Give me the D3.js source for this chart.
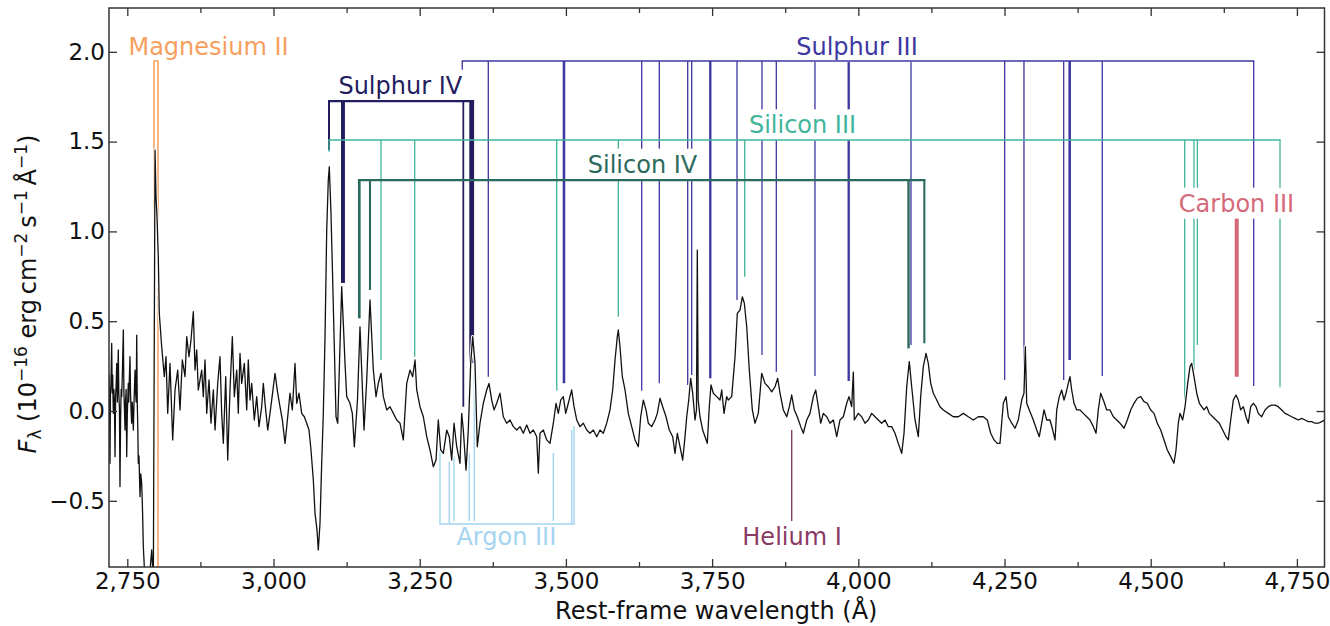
<!DOCTYPE html>
<html><head><meta charset="utf-8">
<script src="https://cdn.jsdelivr.net/npm/d3@7"></script>
<style>body{margin:0;background:#fff}svg{display:block}</style>
</head><body>
<svg id="chart" width="1330" height="626"></svg>
<script>
// ---------------- DATA ----------------
// Observed spectrum: [rest-frame wavelength (Å), F_lambda (1e-16 erg cm^-2 s^-1 Å^-1)]
const spectrum = [
[2718.7,0.200],[2719.5,0.050],[2720.4,-0.291],[2721.2,0.100],[2722.0,0.150],[2723.3,0.377],[2724.2,0.100],[2725.0,0.200],
[2726.1,-0.013],[2727.0,0.120],[2728.0,0.050],[2729.0,-0.254],[2730.0,0.080],[2731.0,0.150],[2731.9,0.265],[2733.0,0.050],
[2734.6,0.340],[2735.5,0.100],[2736.5,0.020],[2737.5,-0.421],[2738.5,-0.050],[2739.5,0.120],[2740.4,0.080],[2741.5,0.200],
[2743.2,0.451],[2744.2,0.100],[2745.0,0.030],[2746.1,-0.106],[2747.0,0.050],[2748.0,0.120],[2749.0,-0.254],[2750.0,-0.020],
[2751.7,0.154],[2752.5,0.050],[2753.5,0.180],[2754.6,0.302],[2755.5,0.100],[2756.5,0.000],[2757.5,-0.068],[2758.5,0.050],
[2759.5,-0.020],[2760.3,-0.106],[2761.5,0.050],[2762.2,0.120],[2763.2,0.228],[2764.2,0.100],[2765.2,0.050],[2766.1,0.423],
[2767.0,0.050],[2768.0,-0.100],[2768.8,-0.291],[2770.0,-0.250],[2771.7,-0.477],[2773.0,-0.350],[2774.6,-0.403],[2776.0,-0.550],
[2777.4,-0.756],[2780.3,-0.95],[2786.0,-1.0],
[2791.7,-0.774],[2794.5,-0.95],[2797.4,1.453],[2799.1,1.193],[2800.8,1.082],[2803.0,0.859],[2804.7,0.544],[2808.8,0.358],
[2813.3,0.191],[2816.2,0.302],[2819.1,-0.013],[2823.0,0.265],[2827.6,-0.161],[2831.6,0.117],[2836.2,0.228],[2840.1,0.006],
[2844.1,0.284],[2848.7,0.191],[2851.6,0.414],[2855.5,0.302],[2858.9,0.395],[2862.9,0.553],[2865.8,0.228],[2868.7,0.340],
[2871.4,0.117],[2877.2,0.228],[2880.0,0.080],[2882.9,0.284],[2885.8,-0.013],[2889.7,0.173],[2893.1,-0.068],[2897.1,0.117],
[2900.0,-0.106],[2904.6,0.154],[2908.5,0.302],[2911.4,-0.013],[2914.2,-0.180],[2918.3,0.191],[2921.7,-0.273],[2925.6,0.117],
[2929.6,0.414],[2933.0,0.080],[2937.1,0.228],[2939.8,-0.013],[2942.7,0.321],[2945.6,0.154],[2950.1,0.265],[2954.2,0.006],
[2956.9,0.284],[2959.8,0.061],[2962.7,0.154],[2967.2,-0.050],[2971.3,0.080],[2975.2,-0.087],[2979.8,0.024],[2982.6,0.154],
[2985.5,0.043],[2990.1,-0.106],[2994.0,-0.013],[2996.9,0.061],[3002.6,0.210],[3007.2,0.099],[3011.1,0.024],[3015.1,-0.050],
[3019.7,-0.180],[3024.3,-0.032],[3028.2,0.099],[3032.2,0.006],[3036.8,0.265],[3039.7,0.043],[3043.6,0.099],[3048.2,-0.013],
[3052.7,-0.032],[3056.8,-0.068],[3060.7,-0.106],[3064.1,-0.217],[3068.1,-0.384],[3071.0,-0.570],[3074.4,-0.663],[3076.6,-0.774],
[3079.5,-0.625],[3082.4,-0.291],[3085.2,-0.013],[3088.1,0.414],[3091.0,1.008],[3093.7,1.286],[3095.4,1.360],[3098.3,1.101],
[3101.2,0.729],[3104.0,0.358],[3106.9,-0.032],[3109.8,-0.068],[3112.5,0.228],[3116.6,0.692],[3119.4,0.488],[3122.3,0.265],
[3125.2,0.080],[3130.8,0.043],[3134.8,-0.013],[3138.2,-0.199],[3143.6,0.061],[3147.9,0.469],[3154.8,-0.106],[3159.4,0.173],
[3165.0,0.618],[3170.7,0.228],[3175.3,0.080],[3179.2,0.154],[3183.8,0.210],[3187.8,0.080],[3193.6,0.006],[3199.2,0.024],
[3204.9,-0.013],[3210.7,-0.050],[3216.3,-0.068],[3222.0,-0.161],[3227.8,0.154],[3233.4,0.228],[3238.0,0.191],[3242.0,0.284],
[3244.9,0.117],[3250.5,0.024],[3256.2,-0.032],[3262.0,-0.143],[3267.6,-0.217],[3273.3,-0.310],[3277.9,-0.273],[3281.8,-0.050],
[3285.9,-0.217],[3290.4,-0.236],[3296.2,-0.106],[3300.6,-0.143],[3304.7,-0.273],[3308.7,-0.068],[3313.3,-0.199],[3318.9,-0.291],
[3321.8,-0.013],[3324.6,-0.106],[3329.2,-0.329],[3333.1,-0.106],[3337.2,0.265],[3340.6,0.414],[3344.6,0.265],[3348.5,-0.199],
[3353.1,-0.068],[3358.8,0.043],[3364.6,0.117],[3368.5,0.154],[3373.1,0.061],[3377.1,0.006],[3381.7,0.043],[3387.3,0.099],
[3393.0,-0.032],[3398.8,-0.068],[3404.4,-0.050],[3410.1,-0.087],[3415.9,-0.106],[3421.5,-0.087],[3427.2,-0.124],[3433.0,-0.078],
[3438.6,-0.124],[3444.3,-0.106],[3450.1,-0.143],[3452.8,-0.347],[3455.7,-0.124],[3461.4,-0.106],[3467.2,-0.161],[3472.8,-0.180],
[3478.5,-0.068],[3483.1,0.043],[3487.0,-0.013],[3491.1,0.061],[3495.6,0.080],[3499.7,-0.013],[3504.1,0.043],[3509.9,0.117],
[3513.9,0.024],[3518.5,-0.050],[3524.1,-0.087],[3529.8,-0.068],[3535.6,-0.106],[3541.2,-0.124],[3546.9,-0.106],[3552.7,-0.143],
[3558.3,-0.106],[3564.0,-0.124],[3569.8,-0.068],[3575.4,0.006],[3580.0,0.117],[3584.0,0.284],[3587.9,0.414],[3589.6,0.451],
[3592.5,0.358],[3596.5,0.191],[3601.1,0.117],[3606.7,-0.013],[3612.5,-0.087],[3618.2,-0.161],[3623.8,-0.199],[3627.9,-0.032],
[3632.4,0.061],[3637.0,0.006],[3640.9,-0.068],[3646.7,-0.087],[3652.4,-0.050],[3656.3,-0.013],[3660.9,0.071],[3665.5,0.024],
[3671.2,-0.032],[3676.8,-0.106],[3682.6,-0.143],[3686.6,-0.236],[3690.5,-0.124],[3695.1,-0.199],[3699.7,-0.273],[3703.7,-0.143],
[3706.6,-0.032],[3710.0,0.061],[3713.4,0.182],[3716.8,0.099],[3720.8,-0.050],[3723.3,0.006],[3724.7,0.896],[3726.2,0.061],
[3729.3,-0.032],[3733.9,-0.106],[3737.9,-0.143],[3741.8,-0.180],[3745.2,0.024],[3748.1,0.145],[3752.1,0.099],[3757.9,0.080],
[3763.5,0.061],[3766.4,0.117],[3770.4,-0.013],[3774.9,0.080],[3777.7,0.061],[3783.5,0.080],[3789.2,0.302],[3793.1,0.544],
[3797.7,0.562],[3801.7,0.636],[3805.1,0.600],[3809.2,0.469],[3813.6,0.228],[3818.8,0.006],[3823.3,-0.068],[3829.0,-0.013],
[3834.8,0.210],[3840.5,0.154],[3846.1,0.135],[3851.9,0.107],[3857.6,0.135],[3862.2,0.182],[3866.1,0.099],[3871.8,0.006],
[3877.6,-0.032],[3882.1,0.024],[3886.1,0.089],[3890.6,0.006],[3895.7,-0.032],[3901.5,-0.087],[3906.0,-0.124],[3911.8,-0.050],
[3917.4,-0.013],[3923.1,0.080],[3927.2,0.117],[3931.6,0.024],[3935.7,-0.068],[3940.2,-0.013],[3946.0,-0.032],[3951.6,-0.068],
[3957.3,-0.050],[3963.1,-0.143],[3968.7,-0.050],[3974.4,-0.032],[3980.2,0.043],[3984.1,0.080],[3988.7,0.024],[3991.5,0.217],
[3993.2,-0.050],[4000.0,-0.013],[4005.8,-0.032],[4011.5,-0.068],[4017.1,-0.050],[4022.9,-0.013],[4028.6,-0.032],[4034.2,-0.050],
[4040.0,-0.068],[4045.7,-0.050],[4051.3,-0.087],[4057.1,-0.087],[4062.8,-0.124],[4068.4,-0.180],[4074.2,-0.236],[4078.2,-0.124],
[4082.8,0.135],[4087.2,0.275],[4091.3,0.135],[4097.0,-0.050],[4102.6,-0.143],[4106.7,0.080],[4111.2,0.247],[4115.8,0.321],
[4119.7,0.265],[4123.8,0.154],[4128.3,0.099],[4134.1,0.061],[4139.7,0.024],[4145.4,0.006],[4153.9,-0.013],[4162.5,-0.032],
[4171.0,-0.032],[4179.6,-0.013],[4188.1,-0.032],[4196.7,-0.050],[4205.2,-0.032],[4213.8,-0.032],[4220.6,-0.050],[4226.4,-0.124],
[4232.1,-0.161],[4237.7,-0.180],[4242.3,-0.180],[4248.0,0.043],[4252.6,0.080],[4256.5,-0.032],[4262.3,-0.068],[4268.0,-0.096],
[4273.6,-0.050],[4279.4,0.061],[4283.3,0.099],[4285.6,0.358],[4288.0,0.043],[4292.4,0.006],[4299.3,-0.050],[4305.1,-0.106],
[4309.5,-0.143],[4313.6,-0.068],[4317.6,0.006],[4322.2,-0.050],[4327.8,-0.050],[4332.5,-0.106],[4336.4,-0.161],[4339.3,0.006],
[4343.7,0.080],[4347.8,0.117],[4351.8,0.061],[4355.2,0.099],[4359.1,0.154],[4362.0,0.191],[4364.9,0.117],[4368.9,0.043],
[4373.5,0.006],[4379.1,0.006],[4384.8,-0.013],[4390.6,-0.032],[4396.2,-0.050],[4401.9,-0.087],[4406.5,-0.124],[4410.4,0.006],
[4414.5,0.099],[4419.0,0.061],[4424.8,0.006],[4430.4,0.006],[4436.1,-0.032],[4441.9,-0.050],[4447.5,-0.068],[4454.4,-0.096],
[4460.0,-0.050],[4465.8,0.006],[4471.5,0.043],[4477.1,0.071],[4482.9,0.080],[4488.6,0.052],[4494.2,0.043],[4500.0,0.006],
[4505.7,-0.013],[4511.3,-0.068],[4517.1,-0.106],[4522.8,-0.161],[4528.4,-0.217],[4534.2,-0.254],[4539.8,-0.291],[4543.3,-0.217],
[4547.2,-0.068],[4550.1,-0.013],[4554.7,-0.050],[4558.7,0.024],[4563.3,0.154],[4567.2,0.247],[4570.1,0.265],[4574.1,0.191],
[4578.7,0.099],[4583.2,0.043],[4587.2,0.024],[4591.2,0.006],[4595.8,0.024],[4600.2,-0.013],[4606.0,-0.032],[4611.7,-0.050],
[4617.3,-0.068],[4623.1,-0.106],[4628.8,-0.143],[4632.7,-0.161],[4636.8,-0.050],[4641.3,0.061],[4645.9,0.089],[4649.8,0.061],
[4653.9,0.006],[4658.4,0.024],[4663.0,-0.032],[4666.9,-0.068],[4671.0,0.024],[4675.5,0.043],[4680.1,0.024],[4684.0,-0.013],
[4689.8,-0.032],[4695.5,0.006],[4701.1,0.024],[4706.9,0.033],[4712.5,0.033],[4718.2,0.024],[4724.0,0.006],[4729.7,-0.013],
[4735.3,-0.022],[4741.1,-0.032],[4746.8,-0.041],[4752.4,-0.050],[4758.2,-0.041],[4763.9,-0.050],[4769.5,-0.059],[4775.3,-0.059],
[4781.0,-0.068],[4786.6,-0.068],[4792.4,-0.059],[4798.0,-0.050]
];

// Line identifications: [wavelength (Å), flux where the marker ends, relative strength]
const magnesium2Lines = [[2795.7,-0.9,1.3],[2802.5,-0.9,1.3]];
const sulphur4Lines   = [[3094.9,1.453,1.7],[3118.8,0.713,3.4],[3324.6,0.024,1.5],[3338.9,0.267,4.2]];
const sulphur3Lines   = [[3322.8,1.900,1.1],[3367.3,0.191,1.1],[3496.7,0.154,2.2],[3629.6,0.113,1.1],[3659.7,0.154,1.1],
                         [3708.3,0.145,1.1],[3715.1,0.200,1.1],[3746.9,0.182,2.0],[3792.6,0.618,1.1],[3835.3,0.312,1.1],
                         [3859.8,0.219,1.1],[3925.9,0.195,1.1],[3983.6,0.167,2.0],[4090.1,0.367,1.1],[4250.3,0.173,1.1],
                         [4283.3,0.145,1.1],[4351.2,0.173,1.1],[4361.5,0.284,2.2],[4417.2,0.195,1.1],[4676.1,0.139,1.1]];
const silicon3Lines   = [[3094.9,1.444,1.1],[3183.8,0.284,1.1],[3241.4,0.302,1.1],[3484.3,0.113,1.1],[3589.6,0.525,1.1],
                         [3805.8,0.748,1.1],[4558.1,0.052,1.1],[4574.0,0.228,1.1],[4579.8,0.367,1.1],[4721.1,0.132,1.1]];
const silicon4Lines   = [[3146.7,0.516,2.3],[3165.0,0.674,1.8],[4085.9,0.349,2.1],[4112.9,0.377,1.8]];
const carbon3Lines    = [[4647.1,0.191,3.5]];
const argon3Lines     = [[3284.7,-0.212,1.2],[3300.6,-0.282,1.2],[3308.7,-0.256,1.2],[3334.8,-0.236,1.2],
                         [3343.4,0.201,1.2],[3478.5,-0.233,1.2],[3509.9,-0.106,1.2],[3513.9,-0.084,1.2]];
const helium1Lines    = [[3886.1,-0.106,1.2]];

const ionNames    = ["Magnesium II","Sulphur IV","Sulphur III","Silicon III","Silicon IV","Carbon III","Argon III","Helium I"];
const ionLines    = [magnesium2Lines, sulphur4Lines, sulphur3Lines, silicon3Lines, silicon4Lines, carbon3Lines, argon3Lines, helium1Lines];
const ionBracket  = [1.949, 1.726, 1.949, 1.509, 1.286, 1.075, -0.629, -0.624];   // flux level of the bracket

// Tick values
const xMajorTicks = [2750,3000,3250,3500,3750,4000,4250,4500,4750];
const xMinorTicks = [2875,3125,3375,3625,3875,4125,4375,4625];
const yMajorTicks = [-0.5,0,0.5,1.0,1.5,2.0];

// ---------------- STYLE / LAYOUT ----------------
const ionStyle = {
  "Magnesium II": {color:"#f5a05e", bracketW:1.5, label:[2888.9, 1.982]},
  "Sulphur IV":   {color:"#221d5e", bracketW:2.3, label:[3216.8, 1.763]},
  "Sulphur III":  {color:"#3d37a1", bracketW:1.3, label:[3997.8, 1.982]},
  "Silicon III":  {color:"#42b49c", bracketW:1.3, label:[3904.6, 1.546]},
  "Silicon IV":   {color:"#2b6a5d", bracketW:2.2, label:[3631.0, 1.327]},
  "Carbon III":   {color:"#d4697a", bracketW:1.3, label:[4646.7, 1.110]},
  "Argon III":    {color:"#a3d5f0", bracketW:1.5, label:[3398.1, -0.746]},
  "Helium I":     {color:"#8a3a63", bracketW:1.3, label:[3886.7, -0.746]}
};
const FONT = "DejaVu Sans";
const FS = 24, TFS = 23;
const L = 109, R = 1324.5, T = 8, B = 567;

const svg = d3.select("#chart");
const x = d3.scaleLinear().domain([2718.7, 4797.2]).range([L, R]);
const y = d3.scaleLinear().domain([-0.8686, 2.244]).range([B, T]);
const widthScale = d3.scaleLinear().domain([1, 4]).range([1.2, 4.6]);

svg.append("defs").append("clipPath").attr("id","plotclip")
  .append("rect").attr("x",L).attr("y",T).attr("width",R-L).attr("height",B-T);

const gV   = svg.append("g").attr("clip-path","url(#plotclip)");   // vertical markers
const gBox = svg.append("g");                                      // label backgrounds
const gH   = svg.append("g").attr("clip-path","url(#plotclip)");   // bracket horizontals
const gLab = svg.append("g");                                      // labels
const gSpec= svg.append("g").attr("clip-path","url(#plotclip)");   // spectrum

ionNames.forEach((name, i) => {
  const st = ionStyle[name];
  const lines = ionLines[i];
  const lev = ionBracket[i];
  gV.selectAll(null).data(lines).enter().append("line")
    .attr("x1", d => x(d[0])).attr("x2", d => x(d[0]))
    .attr("y1", y(lev)).attr("y2", d => y(d[1]))
    .attr("stroke", st.color).attr("stroke-width", d => widthScale(d[2]));
  if (lines.length > 1) {
    const ext = d3.extent(lines, d => d[0]);
    const w0 = widthScale(lines[0][2]) / 2, w1 = widthScale(lines[lines.length-1][2]) / 2;
    gH.append("line")
      .attr("x1", x(ext[0]) - w0).attr("x2", x(ext[1]) + w1)
      .attr("y1", y(lev)).attr("y2", y(lev))
      .attr("stroke", st.color).attr("stroke-width", st.bracketW);
  }
  const t = gLab.append("text")
    .attr("x", x(st.label[0])).attr("y", y(st.label[1]))
    .attr("text-anchor","middle").attr("font-family",FONT).attr("font-size",FS)
    .attr("fill", st.color).text(name);
  const bb = t.node().getBBox();
  gBox.append("rect").attr("x", bb.x-3).attr("y", bb.y-2).attr("width", bb.width+6).attr("height", bb.height+3)
    .attr("fill","#fff");
});

// spectrum
const lineGen = d3.line().x(d => x(d[0])).y(d => y(d[1]));
gSpec.append("path").datum(spectrum).attr("d", lineGen)
  .attr("fill","none").attr("stroke","#fff").attr("stroke-width",3.2).attr("stroke-linejoin","round");
gSpec.append("path").datum(spectrum).attr("d", lineGen)
  .attr("fill","none").attr("stroke","#111").attr("stroke-width",1.3).attr("stroke-linejoin","round");

// axes
const axisColor = "#333";
function styleAxis(g){
  g.select(".domain").remove();
  g.selectAll(".tick line").attr("stroke",axisColor).attr("stroke-width",1.3);
  g.selectAll(".tick text").attr("font-family",FONT).attr("font-size",TFS).attr("fill","#111");
}
svg.append("g").attr("transform",`translate(0,${B})`)
  .call(d3.axisBottom(x).tickValues(xMajorTicks).tickSize(-8).tickPadding(6).tickFormat(d3.format(",")))
  .call(styleAxis);
svg.append("g").attr("transform",`translate(0,${B})`)
  .call(d3.axisBottom(x).tickValues(xMinorTicks).tickSize(-5).tickFormat(""))
  .call(styleAxis);
svg.append("g").attr("transform",`translate(0,${T})`)
  .call(d3.axisTop(x).tickValues(xMajorTicks).tickSize(-8).tickFormat(""))
  .call(styleAxis);
svg.append("g").attr("transform",`translate(0,${T})`)
  .call(d3.axisTop(x).tickValues(xMinorTicks).tickSize(-5).tickFormat(""))
  .call(styleAxis);
svg.append("g").attr("transform",`translate(${L},0)`)
  .call(d3.axisLeft(y).tickValues(yMajorTicks).tickSize(-8).tickPadding(4)
        .tickFormat(d => d3.format(".1f")(d).replace("-","\u2212")))
  .call(styleAxis);
svg.append("g").attr("transform",`translate(${R},0)`)
  .call(d3.axisRight(y).tickValues(yMajorTicks).tickSize(-8).tickFormat(""))
  .call(styleAxis);

svg.append("rect").attr("x",L).attr("y",T).attr("width",R-L).attr("height",B-T)
  .attr("fill","none").attr("stroke",axisColor).attr("stroke-width",1.5);

// axis titles
svg.append("text").attr("x",(L+R)/2 - 0.5).attr("y",619).attr("text-anchor","middle")
  .attr("font-family",FONT).attr("font-size",FS).attr("fill","#111").text("Rest-frame wavelength (Å)");

const yl = svg.append("text").attr("transform","translate(36,294) rotate(-90)").attr("text-anchor","middle")
  .attr("font-family",FONT).attr("font-size",FS).attr("fill","#111");
const parts = [
  ["F","norm","italic"],["λ","sub"],[" (10","norm"],["−16","sup"],[" erg\u2009cm","norm"],["−2","sup"],
  ["\u2009s","norm"],["−1","sup"],["\u2009Å","norm"],["−1","sup"],[")","norm"]
];
let cur = 0;
parts.forEach(p => {
  const target = p[1]==="sup" ? -9 : p[1]==="sub" ? 5 : 0;
  const ts = yl.append("tspan").attr("dy", target - cur).text(p[0]);
  if (p[1] !== "norm") ts.attr("font-size", 17);
  if (p[2]) ts.attr("font-style","italic");
  cur = target;
});
</script>
</body></html>
